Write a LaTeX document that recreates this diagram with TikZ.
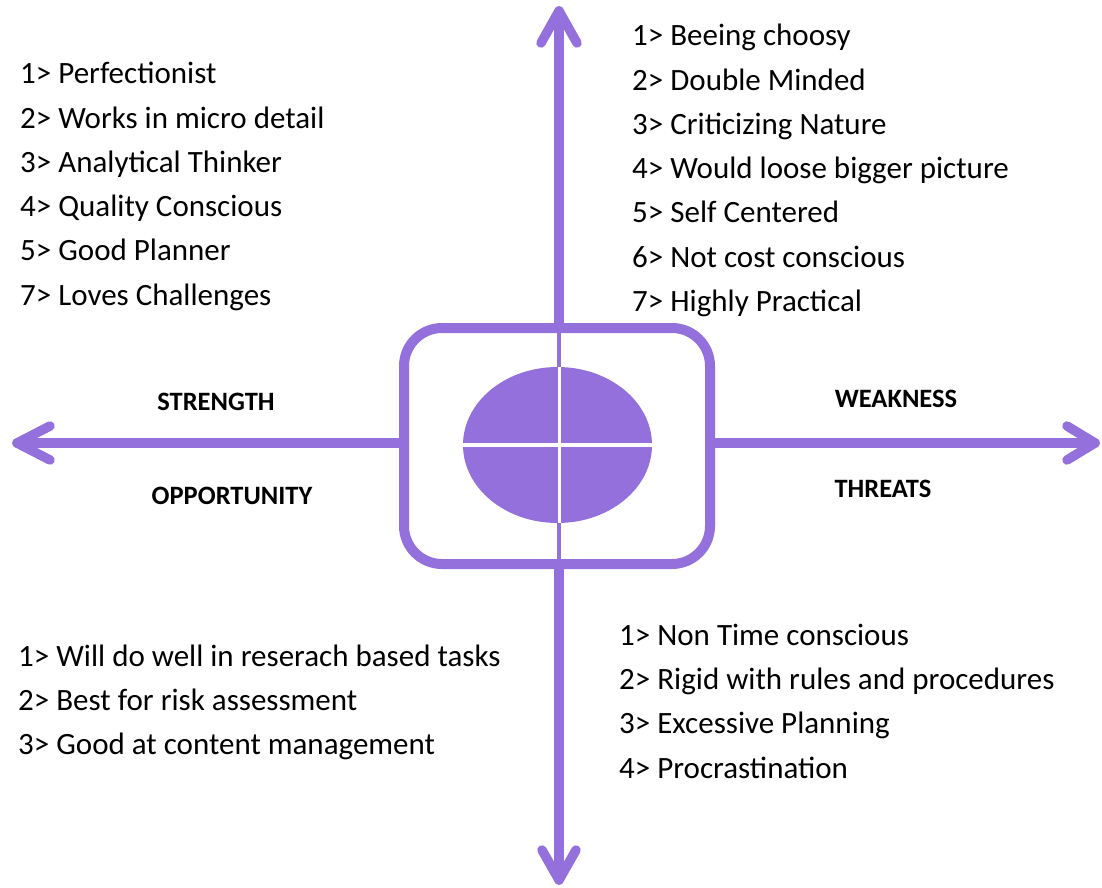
\documentclass[tikz,border=0pt]{standalone}
\usepackage{fontspec}
\setmainfont{Carlito}
\usetikzlibrary{shapes.geometric}
\definecolor{swotpurple}{RGB}{147,112,219}
\tikzset{
  axis/.style={draw=swotpurple, line width=9.5pt, line cap=round, line join=round},
  item/.style={anchor=base west, inner sep=0pt, font=\fontsize{31}{37}\selectfont},
  quad/.style={anchor=center, inner sep=0pt, font=\fontsize{26.5}{30}\selectfont\bfseries},
}
\begin{document}
\begin{tikzpicture}[x=1pt,y=-1pt]
\useasboundingbox (0,0) rectangle (1102,888);
% central box
\node[draw=swotpurple, line width=10pt, rounded corners=38pt, minimum width=306pt, minimum height=236pt, inner sep=0pt] (box) at (557,446) {};
\node[fill=swotpurple, ellipse, minimum width=189pt, minimum height=156pt, inner sep=0pt] (core) at (557.5,445) {};
\draw[swotpurple, line width=3.5pt] (box.north -| 559,0) -- (core.north -| 559,0);
\draw[swotpurple, line width=3.5pt] (core.south -| 559,0) -- (box.south -| 559,0);
\draw[white, line width=3.3pt] (core.west |- 0,445) -- (core.east |- 0,445);
\draw[white, line width=3.3pt] (core.north -| 559.5,0) -- (core.south -| 559.5,0);
% axes
\coordinate (tipN) at (559,11);
\coordinate (tipS) at (559,880);
\coordinate (tipW) at (17,443);
\coordinate (tipE) at (1095,443);
\draw[axis] (box.north -| tipN) -- (tipN);
\draw[axis] (tipN) ++(-18,32) -- (tipN) -- ++(18,32);
\draw[axis] (box.south -| tipS) -- (tipS);
\draw[axis] (tipS) ++(-17,-30) -- (tipS) -- ++(17,-30);
\draw[axis] (box.west |- tipW) -- (tipW);
\draw[axis] (tipW) ++(33,-17) -- (tipW) -- ++(33,17);
\draw[axis] (box.east |- tipE) -- (tipE);
\draw[axis] (tipE) ++(-28,-17) -- (tipE) -- ++(-28,17);
% quadrant labels
\node[quad] (lS) at (216,402) {STRENGTH};
\node[quad] (lO) at (232,496) {OPPORTUNITY};
\node[quad] (lW) at (896,399) {WEAKNESS};
\node[quad] (lT) at (883,489) {THREATS};
% strengths
\node[item] (s1) at (20,84) {1> Perfectionist};
\node[item] (s2) at (20,128.2) {2> Works in micro detail};
\node[item] (s3) at (20,172.4) {3> Analytical Thinker};
\node[item] (s4) at (20,216.6) {4> Quality Conscious};
\node[item] (s5) at (20,260.8) {5> Good Planner};
\node[item] (s6) at (20,305) {7> Loves Challenges};
% weaknesses
\node[item] (w1) at (632,46) {1> Beeing choosy};
\node[item] (w2) at (632,90.2) {2> Double Minded};
\node[item] (w3) at (632,134.4) {3> Criticizing Nature};
\node[item] (w4) at (632,178.6) {4> Would loose bigger picture};
\node[item] (w5) at (632,222.8) {5> Self Centered};
\node[item] (w6) at (632,267) {6> Not cost conscious};
\node[item] (w7) at (632,311.2) {7> Highly Practical};
% opportunities
\node[item] (o1) at (18,666) {1> Will do well in reserach based tasks};
\node[item] (o2) at (18,710.2) {2> Best for risk assessment};
\node[item] (o3) at (18,754.4) {3> Good at content management};
% threats
\node[item] (t1) at (619,645.5) {1> Non Time conscious};
\node[item] (t2) at (619,689.7) {2> Rigid with rules and procedures};
\node[item] (t3) at (619,733.9) {3> Excessive Planning};
\node[item] (t4) at (619,778.1) {4> Procrastination};
\end{tikzpicture}
\end{document}
